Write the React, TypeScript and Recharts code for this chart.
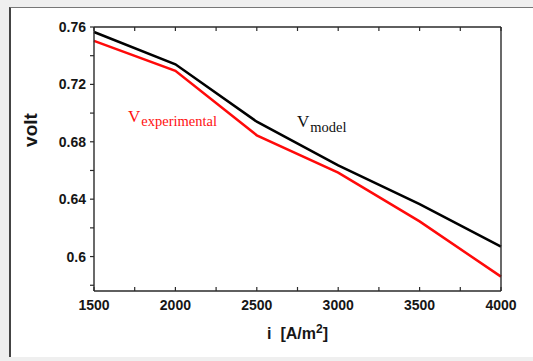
import { LineChart, Line, XAxis, YAxis, Label } from "recharts";

// current density [A/m2] and cell voltage [V]
const currentDensity = [1500, 2000, 2500, 3000, 3500, 4000];
const vModel = [0.7565, 0.734, 0.694, 0.6635, 0.6365, 0.607];
const vExperimental = [0.7503, 0.7295, 0.6845, 0.6585, 0.6245, 0.586];

const xTicks = [1500, 1750, 2000, 2250, 2500, 2750, 3000, 3250, 3500, 3750, 4000];
const yTicks = [0.58, 0.6, 0.62, 0.64, 0.66, 0.68, 0.7, 0.72, 0.74, 0.76];

const data = currentDensity.map((i, k) => ({
  i,
  model: vModel[k],
  experimental: vExperimental[k],
}));

const AXIS = "#2a2a2a";
const LABEL = "#161616";
const SANS = "'Liberation Sans', Arial, sans-serif";
const SERIF = "'Liberation Serif', 'Times New Roman', serif";
const TICK = 4;

const isMajorX = (v: number) => v % 500 === 0;
const isMajorY = (v: number) => Math.round(v * 100) % 4 === 0;

function BottomTick(props: any) {
  const { x, y, payload } = props;
  const v = payload.value;
  return (
    <g>
      <line x1={x} x2={x} y1={y} y2={y - TICK} stroke={AXIS} strokeWidth={1.2} />
      {isMajorX(v) && (
        <text x={x} y={y + 19} textAnchor="middle" fontFamily={SANS} fontWeight="bold" fontSize={14} fill={LABEL}>
          {v}
        </text>
      )}
    </g>
  );
}

function TopTick(props: any) {
  const { x, y } = props;
  return <line x1={x} x2={x} y1={y} y2={y + TICK} stroke={AXIS} strokeWidth={1.2} />;
}

function LeftTick(props: any) {
  const { x, y, payload } = props;
  const v = payload.value;
  return (
    <g>
      <line x1={x - TICK} x2={x} y1={y} y2={y} stroke={AXIS} strokeWidth={1.2} />
      {isMajorY(v) && (
        <text x={x - 8} y={y + 5} textAnchor="end" fontFamily={SANS} fontWeight="bold" fontSize={14} fill={LABEL}>
          {String(v)}
        </text>
      )}
    </g>
  );
}

function RightTick(props: any) {
  const { x, y } = props;
  return <line x1={x - TICK} x2={x} y1={y} y2={y} stroke={AXIS} strokeWidth={1.2} />;
}

export default function App() {
  return (
    <div style={{ position: "absolute", left: 0, top: 0, width: 533, height: 361, background: "#efefef" }}>
      <div
        style={{
          position: "absolute",
          left: 9,
          top: 7,
          width: 524,
          height: 350,
          boxSizing: "border-box",
          background: "#fff",
          borderLeft: "2px solid #444",
          borderTop: "1px solid #777",
        }}
      />
      <div style={{ position: "absolute", left: 0, top: 0 }}>
        <LineChart width={533} height={361} data={data} margin={{ top: 26, right: 31, bottom: 0, left: 0 }}>
          <XAxis
            xAxisId="bottom"
            dataKey="i"
            type="number"
            domain={[1500, 4000]}
            ticks={xTicks}
            interval={0}
            height={70}
            tickSize={0}
            tickMargin={0}
            tickLine={false}
            axisLine={{ stroke: AXIS, strokeWidth: 1.4 }}
            tick={(p: any) => <BottomTick {...p} />}
          >
            <Label
              content={(p: any) => {
                const vb = p.viewBox;
                return (
                  <text
                    x={vb.x + vb.width / 2}
                    y={vb.y + 48}
                    textAnchor="middle"
                    fontFamily={SANS}
                    fontWeight="bold"
                    fontSize={16}
                    fill={LABEL}
                  >
                    {"i\u00a0\u00a0[A/m"}
                    <tspan dy={-6} fontSize={12}>2</tspan>
                    <tspan dy={6}>]</tspan>
                  </text>
                );
              }}
            />
          </XAxis>
          <XAxis
            xAxisId="top"
            orientation="top"
            dataKey="i"
            type="number"
            domain={[1500, 4000]}
            ticks={xTicks}
            interval={0}
            height={1}
            tickSize={0}
            tickMargin={0}
            tickLine={false}
            axisLine={{ stroke: AXIS, strokeWidth: 1.4 }}
            tick={(p: any) => <TopTick {...p} />}
          />
          <YAxis
            yAxisId="left"
            type="number"
            domain={[0.576, 0.76]}
            ticks={yTicks}
            interval={0}
            width={94}
            tickSize={0}
            tickMargin={0}
            tickLine={false}
            axisLine={{ stroke: AXIS, strokeWidth: 1.4 }}
            tick={(p: any) => <LeftTick {...p} />}
          >
            <Label
              content={(p: any) => {
                const vb = p.viewBox;
                const cx = vb.x + 30;
                const cy = vb.y + 103;
                return (
                  <text
                    x={cx}
                    y={cy}
                    textAnchor="middle"
                    dominantBaseline="central"
                    transform={`rotate(-90, ${cx}, ${cy})`}
                    fontFamily={SANS}
                    fontWeight="bold"
                    fontSize={19}
                    fill={LABEL}
                  >
                    volt
                  </text>
                );
              }}
            />
          </YAxis>
          <YAxis
            yAxisId="right"
            orientation="right"
            type="number"
            domain={[0.576, 0.76]}
            ticks={yTicks}
            interval={0}
            width={1}
            tickSize={0}
            tickMargin={0}
            tickLine={false}
            axisLine={{ stroke: AXIS, strokeWidth: 1.4 }}
            tick={(p: any) => <RightTick {...p} />}
          />
          <Line
            xAxisId="bottom"
            yAxisId="left"
            type="linear"
            dataKey="model"
            stroke="#000"
            strokeWidth={2.5}
            dot={false}
            isAnimationActive={false}
          />
          <Line
            xAxisId="bottom"
            yAxisId="left"
            type="linear"
            dataKey="experimental"
            stroke="#ff0a0a"
            strokeWidth={2.5}
            dot={false}
            isAnimationActive={false}
          />
        </LineChart>
      </div>
      <svg width={533} height={361} style={{ position: "absolute", left: 0, top: 0, pointerEvents: "none" }}>
        <text x={128} y={122} fontFamily={SERIF} fontSize={17} fill="#ff1010">
          V
          <tspan dx={1} dy={4} fontSize={14.5}>experimental</tspan>
        </text>
        <text x={297} y={127} fontFamily={SERIF} fontSize={17} fill="#111">
          V
          <tspan dx={1} dy={5} fontSize={14.5}>model</tspan>
        </text>
      </svg>
    </div>
  );
}
